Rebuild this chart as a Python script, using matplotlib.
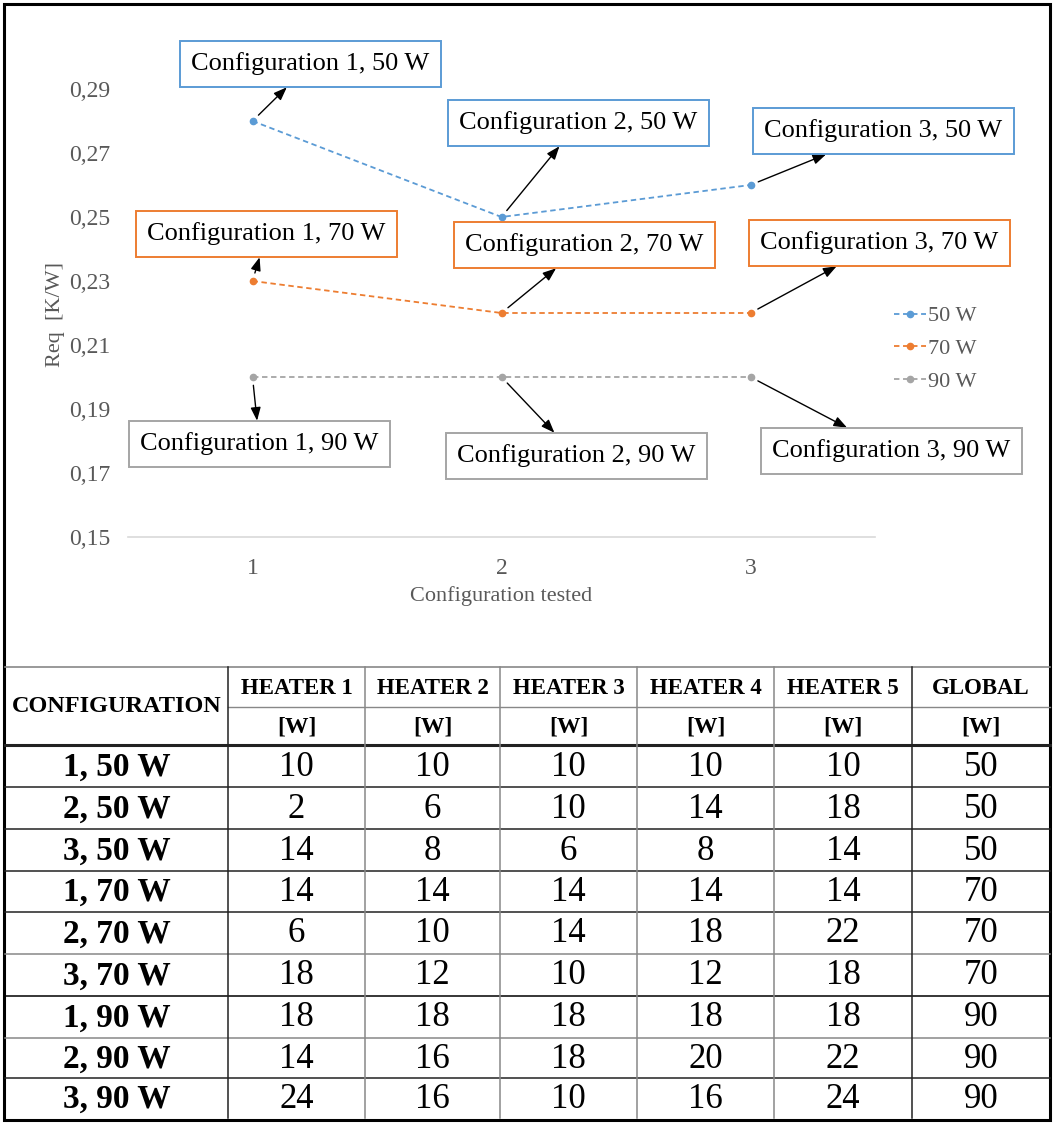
import matplotlib
matplotlib.use("Agg")
import matplotlib.pyplot as plt
from matplotlib.patches import Rectangle

plt.rcParams['font.family'] = ['Liberation Serif', 'DejaVu Serif']

# ---------------- data ----------------
configs = [1, 2, 3]
req_50 = [0.28, 0.25, 0.26]
req_70 = [0.23, 0.22, 0.22]
req_90 = [0.20, 0.20, 0.20]
series_labels = ["50 W", "70 W", "90 W"]
series_colors = ["#5B9BD5", "#ED7D31", "#A5A5A5"]
y_ticks = [0.15, 0.17, 0.19, 0.21, 0.23, 0.25, 0.27, 0.29]

# annotation offsets (pixels) of label box centre from its data point
ann_offsets = {
    "50 W": [(58, 57), (77, 94), (133, 54)],
    "70 W": [(14, 47), (83, 68), (129, 70)],
    "90 W": [(7, -67), (75, -79), (141, -74)],
}

table_header1 = ["HEATER 1", "HEATER 2", "HEATER 3", "HEATER 4", "HEATER 5", "GLOBAL"]
table_header2 = ["[W]"] * 6
row_labels = ["1, 50 W", "2, 50 W", "3, 50 W", "1, 70 W", "2, 70 W", "3, 70 W",
              "1, 90 W", "2, 90 W", "3, 90 W"]
heater1 = [10, 2, 14, 14, 6, 18, 18, 14, 24]
heater2 = [10, 6, 8, 14, 10, 12, 18, 16, 16]
heater3 = [10, 10, 6, 14, 14, 10, 18, 18, 10]
heater4 = [10, 14, 8, 14, 18, 12, 18, 20, 16]
heater5 = [10, 18, 14, 14, 22, 18, 18, 22, 24]
global_w = [50, 50, 50, 70, 70, 70, 90, 90, 90]

# ---------------- figure ----------------
W, H = 1054, 1124
fig = plt.figure(figsize=(W / 100, H / 100), dpi=100)

ax = fig.add_axes([128 / W, 1 - 537 / H, (875 - 128) / W, (537 - 57) / H])
for vals, lab, col in zip([req_50, req_70, req_90], series_labels, series_colors):
    ax.plot(configs, vals, linestyle=(0, (3, 2)), color=col, lw=1.3,
            marker='o', markersize=4.5, label=lab)
ax.set_xlim(0.5, 3.5)
ax.set_ylim(0.15, 0.30)
ax.set_xticks(configs)
ax.set_yticks(y_ticks)
ax.set_yticklabels([f"{v:.2f}".replace('.', ',') for v in y_ticks])
for s in ['top', 'right', 'left']:
    ax.spines[s].set_visible(False)
ax.spines['bottom'].set_color('#D9D9D9')
ax.spines['bottom'].set_linewidth(1.2)
ax.tick_params(length=0, labelsize=17, labelcolor='#595959')
ax.tick_params(axis='x', pad=15)
ax.tick_params(axis='y', pad=13)
ax.set_xlabel("Configuration tested", fontsize=16, color='#595959', labelpad=5)
ax.set_ylabel("Req  [K/W]", fontsize=16, color='#595959', labelpad=4)
ax.yaxis.set_label_coords(-0.085, 0.464)

leg = ax.legend(loc='upper left', bbox_to_anchor=(1.013, 0.50), frameon=False,
                fontsize=16, labelcolor='#595959', handlelength=1.45,
                handletextpad=0.12, labelspacing=0.55, borderaxespad=0)

for vals, lab, col in zip([req_50, req_70, req_90], series_labels, series_colors):
    for x, y, off in zip(configs, vals, ann_offsets[lab]):
        ax.annotate(f"Configuration {x}, {lab}", xy=(x, y), xytext=off,
                    textcoords='offset pixels', ha='center', va='center',
                    fontsize=19, color='black',
                    bbox=dict(boxstyle='square,pad=0.42', fc='white', ec=col, lw=1.4),
                    arrowprops=dict(arrowstyle='<|-,head_length=0.42,head_width=0.16',
                                    color='black', lw=1.0, shrinkA=0, shrinkB=6))

# ---------------- table ----------------
tax = fig.add_axes([0, 0, 1, 1])
tax.set_xlim(0, W)
tax.set_ylim(H, 0)
tax.axis('off')

col_edges = [5, 228, 365, 500, 637, 774, 912, 1050]
head_edges = [667, 707, 745]
row_edges = [745, 787, 829, 871, 912, 954, 996, 1038, 1078, 1118]
dark = '#222222'
grey = '#888888'

# outer border
tax.add_patch(Rectangle((4, 4), 1046, 1116, fill=False, ec='black', lw=2.2))
# header lines
tax.plot([5, 1050], [head_edges[0]] * 2, color=grey, lw=1.2)
tax.plot([col_edges[1], 1050], [head_edges[1]] * 2, color=grey, lw=1.0)
tax.plot([5, 1050], [head_edges[2]] * 2, color=dark, lw=2.2)
row_line_colors = [dark, dark, dark, dark, grey, 'black', grey, dark]
for yy, c in zip(row_edges[1:-1], row_line_colors):
    tax.plot([5, 1050], [yy, yy], color=c, lw=1.1)
for i, xx in enumerate(col_edges[1:-1]):
    tax.plot([xx, xx], [head_edges[0], row_edges[-1]], color=dark if i in (0, 5) else grey, lw=1.1)

# header texts
tax.text((col_edges[0] + col_edges[1]) / 2, (head_edges[0] + head_edges[2]) / 2,
         "CONFIGURATION", ha='center', va='center', fontsize=17.5, fontweight='bold')
for j in range(6):
    cx = (col_edges[j + 1] + col_edges[j + 2]) / 2
    tax.text(cx, (head_edges[0] + head_edges[1]) / 2 + 1, table_header1[j],
             ha='center', va='center', fontsize=16.5, fontweight='bold')
    tax.text(cx, (head_edges[1] + head_edges[2]) / 2 + 1, table_header2[j],
             ha='center', va='center', fontsize=17, fontweight='bold')

cols = [heater1, heater2, heater3, heater4, heater5, global_w]
for i, lab in enumerate(row_labels):
    cy = (row_edges[i] + row_edges[i + 1]) / 2 + 1
    tax.text((col_edges[0] + col_edges[1]) / 2, cy, lab, ha='center', va='center',
             fontsize=24, fontweight='bold')
    for j, colvals in enumerate(cols):
        cx = (col_edges[j + 1] + col_edges[j + 2]) / 2
        tax.text(cx, cy, str(colvals[i]), ha='center', va='center', fontsize=25)

fig.savefig("out.png", dpi=100)
